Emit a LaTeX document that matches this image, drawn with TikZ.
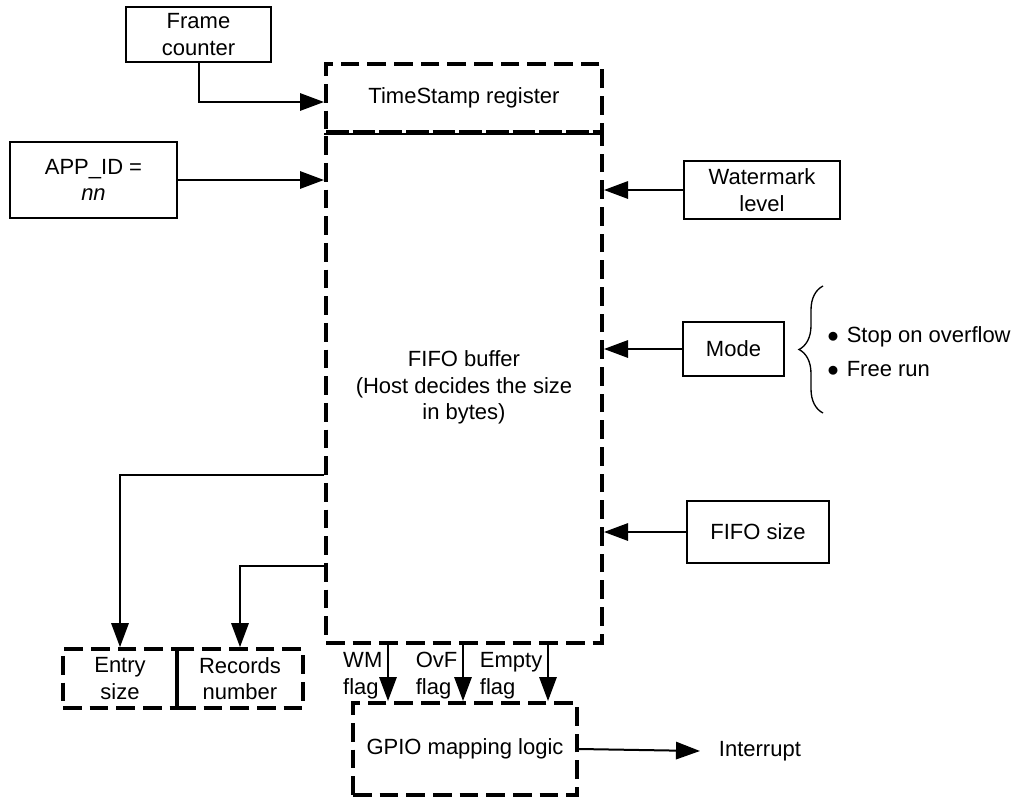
\documentclass[tikz,border=0pt]{standalone}
\usepackage{fontspec}
\setmainfont{Liberation Sans}
\usetikzlibrary{positioning, arrows.meta, decorations.pathreplacing}

\begin{document}
\begin{tikzpicture}[
  x=0.75pt, y=-0.75pt,
  font=\fontsize{16.5}{20}\selectfont,
  box/.style={draw, line width=1.6pt, align=center, inner sep=0pt},
  dbox/.style={draw, line width=3pt, dash pattern=on 14pt off 6pt, align=center, inner sep=0pt},
  fwd/.style={draw, line width=1.5pt, -{Triangle[length=18pt, width=13pt]}},
  wire/.style={draw, line width=1.5pt},
  lab/.style={align=left, inner sep=3.5pt},
]
  \useasboundingbox (0,0) rectangle (1022,797);

  % FIFO block and its register
  \node[dbox, minimum width=207pt, minimum height=51pt] (ts) at (464,98) {TimeStamp register};
  \node[dbox, minimum width=207pt, minimum height=383pt] (fifo) at (464,387.5) {FIFO buffer\\(Host decides the size\\in bytes)};
  \draw[line width=2pt] (ts.south west) -- (ts.south east);

  % inputs
  \node[box, minimum width=109pt, minimum height=41pt] (fc) at (198.5,34.5) {Frame\\counter};
  \node[box, minimum width=125pt, minimum height=57pt] (app) at (93.5,180) {APP\_ID =\\\textit{nn}};
  \node[box, minimum width=117pt, minimum height=43pt] (wm) at (762,190) {Watermark\\level};
  \node[box, minimum width=76pt, minimum height=40.5pt] (mode) at (733.5,349) {Mode};
  \node[box, minimum width=107pt, minimum height=46pt] (fsize) at (758,532) {FIFO size};

  % mode options
  \draw[line width=1pt, decorate, decoration={brace, amplitude=18pt}] (823,413) -- (823,286);
  \node[anchor=west, align=left, inner sep=0pt, font=\fontsize{16.5}{25.5}\selectfont] (opts) at (827,352)
    {$\bullet$\hspace{6pt}Stop on overflow\\$\bullet$\hspace{6pt}Free run};

  % outputs
  \node[dbox, minimum width=85.5pt, minimum height=44pt] (entry) at (120,678.5) {Entry\\size};
  \node[dbox, minimum width=94.5pt, minimum height=44pt] (rec) at (240,678.5) {Records\\number};
  \node[dbox, minimum width=168pt, minimum height=69pt] (gpio) at (465,749) {GPIO mapping logic};
  \node[anchor=west, inner xsep=14pt, inner ysep=0pt] (intr) at (700,751) {Interrupt};

  \coordinate (wmx) at (388,0);
  \coordinate (ovx) at (463,0);
  \coordinate (emx) at (548,0);

  \draw[fwd] (fc.south) |- ([yshift=-3pt]ts.west);
  \draw[fwd] (app.east) -- (app.east -| fifo.west);
  \draw[fwd] (wm.west) -- (wm.west -| fifo.east);
  \draw[fwd] (mode.west) -- (mode.west -| fifo.east);
  \draw[fwd] (fsize.west) -- (fsize.west -| fifo.east);

  \draw[fwd] ([yshift=-65.5pt]fifo.west) -| (entry.north);
  \draw[fwd] ([yshift=-134pt]fifo.west) -| (rec.north);

  \draw[fwd] (wmx |- fifo.south) -- node[lab, left, pos=0.55] {WM\\flag} (wmx |- gpio.north);
  \draw[fwd] (ovx |- fifo.south) -- node[lab, left, pos=0.55] {OvF\\flag} (ovx |- gpio.north);
  \draw[fwd] (emx |- fifo.south) -- node[lab, left, pos=0.55] {Empty\\flag} (emx |- gpio.north);

  \draw[fwd] (gpio.east) -- (intr.west);
\end{tikzpicture}
\end{document}
